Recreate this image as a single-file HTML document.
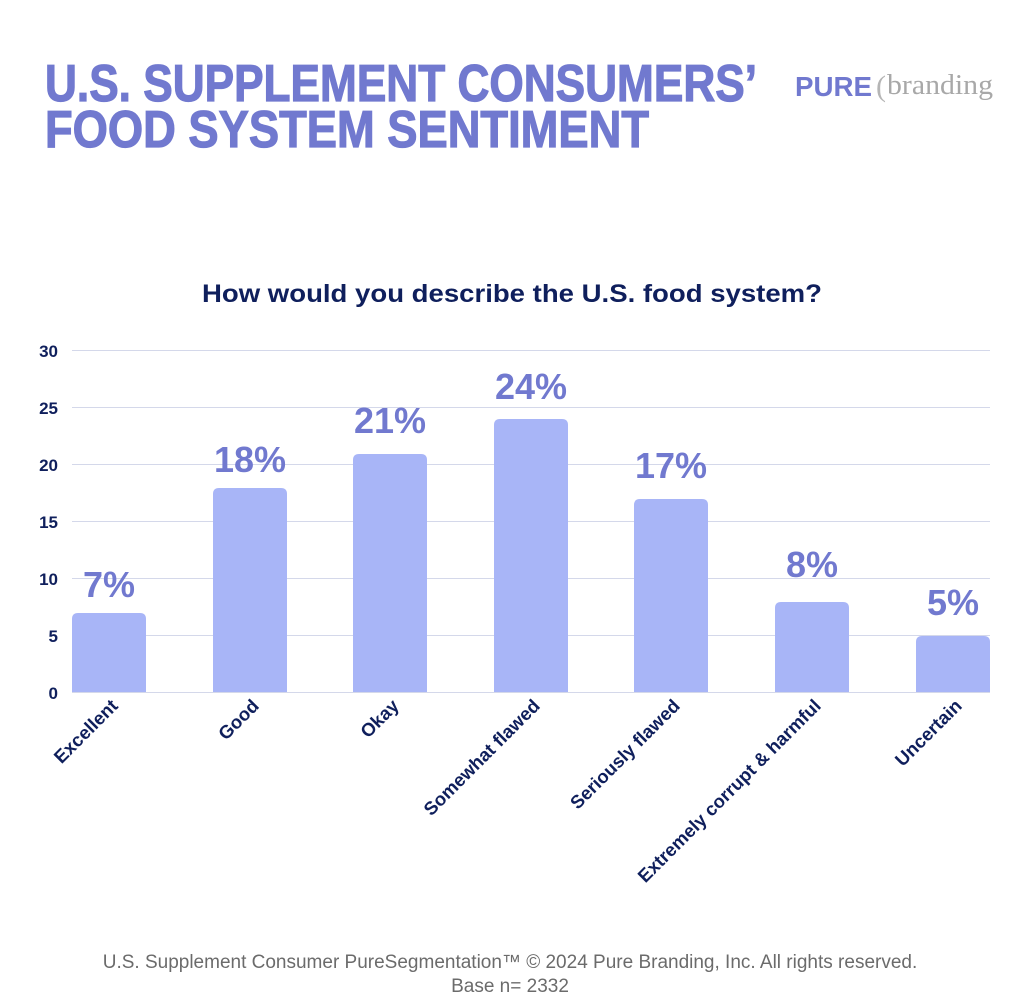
<!DOCTYPE html>
<html><head><meta charset="utf-8"><style>
body{margin:0;background:#fff;}
svg{display:block;font-family:"Liberation Sans",sans-serif;}
</style></head><body>
<svg width="1024" height="1000" viewBox="0 0 1024 1000" xmlns="http://www.w3.org/2000/svg">
<rect width="1024" height="1000" fill="#fff"/>
<text x="45" y="101" font-size="52" font-weight="bold" fill="#7179cf" stroke="#7179cf" stroke-width="1.2" textLength="712" lengthAdjust="spacingAndGlyphs">U.S. SUPPLEMENT CONSUMERS’</text>
<text x="45" y="147" font-size="52" font-weight="bold" fill="#7179cf" stroke="#7179cf" stroke-width="1.2" textLength="604" lengthAdjust="spacingAndGlyphs">FOOD SYSTEM SENTIMENT</text>
<text x="795" y="96" font-size="28" font-weight="bold" fill="#7179cf" textLength="77" lengthAdjust="spacingAndGlyphs">PURE</text>
<text x="876" y="96" font-size="30" fill="#b5b5b5" font-family="Liberation Serif,serif">(</text>
<text x="887" y="94" font-size="28" fill="#a8a8a8" font-family="Liberation Serif,serif" textLength="106" lengthAdjust="spacingAndGlyphs">branding</text>
<text x="202" y="302" font-size="25" font-weight="bold" fill="#0f1f5c" textLength="620" lengthAdjust="spacingAndGlyphs">How would you describe the U.S. food system?</text>
<g stroke="#d4d8ea" stroke-width="1">
<line x1="72" x2="990" y1="350.5" y2="350.5"/><line x1="72" x2="990" y1="407.5" y2="407.5"/>
<line x1="72" x2="990" y1="464.5" y2="464.5"/><line x1="72" x2="990" y1="521.5" y2="521.5"/>
<line x1="72" x2="990" y1="578.5" y2="578.5"/><line x1="72" x2="990" y1="635.5" y2="635.5"/>
<line x1="72" x2="990" y1="692.5" y2="692.5"/>
</g>
<g font-size="17" font-weight="bold" fill="#0f1f5c" text-anchor="end">
<text x="58" y="357">30</text><text x="58" y="414">25</text><text x="58" y="471">20</text>
<text x="58" y="528">15</text><text x="58" y="585">10</text><text x="58" y="642">5</text><text x="58" y="699">0</text>
</g>
<g fill="#a8b5f7">
<path d="M72,692V619q0-6 6-6H140q6 0 6 6V692Z"/>
<path d="M213,692V494q0-6 6-6H281q6 0 6 6V692Z"/>
<path d="M353,692V460q0-6 6-6H421q6 0 6 6V692Z"/>
<path d="M494,692V425q0-6 6-6H562q6 0 6 6V692Z"/>
<path d="M634,692V505q0-6 6-6H702q6 0 6 6V692Z"/>
<path d="M775,692V608q0-6 6-6H843q6 0 6 6V692Z"/>
<path d="M916,692V642q0-6 6-6H984q6 0 6 6V692Z"/>
</g>
<g font-size="36" font-weight="bold" fill="#7179cf" text-anchor="middle">
<text x="109" y="597">7%</text><text x="250" y="472">18%</text><text x="390" y="433">21%</text>
<text x="531" y="399">24%</text><text x="671" y="478">17%</text><text x="812" y="577">8%</text><text x="953" y="615">5%</text>
</g>
<g font-size="18.5" font-weight="bold" fill="#0f1f5c" text-anchor="end">
<text transform="translate(119,707) rotate(-45)">Excellent</text>
<text transform="translate(260,707) rotate(-45)">Good</text>
<text transform="translate(400,707) rotate(-45)">Okay</text>
<text transform="translate(541,707) rotate(-45)">Somewhat flawed</text>
<text transform="translate(681,707) rotate(-45)">Seriously flawed</text>
<text transform="translate(822,707) rotate(-45)">Extremely corrupt &amp; harmful</text>
<text transform="translate(963,707) rotate(-45)">Uncertain</text>
</g>
<g font-size="19" fill="#6b6b6b" text-anchor="middle">
<text x="510" y="968">U.S. Supplement Consumer PureSegmentation™ © 2024 Pure Branding, Inc. All rights reserved.</text>
<text x="510" y="992">Base n= 2332</text>
</g>
</svg>
</body></html>
